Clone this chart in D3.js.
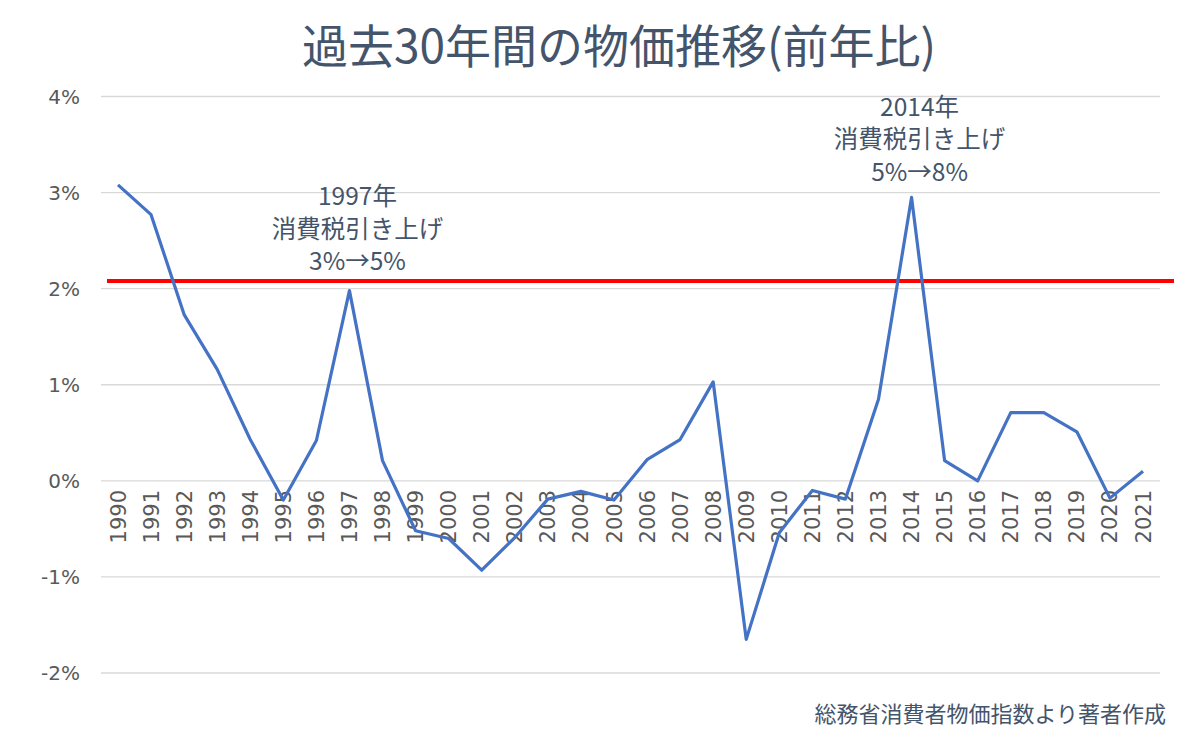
<!DOCTYPE html>
<html>
<head>
<meta charset="utf-8">
<script src="https://cdn.jsdelivr.net/npm/d3@7"></script>
<style>
  body { margin: 0; background: #fff; }
  svg { display: block; }
</style>
</head>
<body>
<div id="chart"></div>
<script>
// 消費者物価指数 前年比 (%)
const years = d3.range(1990, 2022);
const cpi = [3.08, 2.77, 1.73, 1.16, 0.43, -0.2, 0.42, 1.98, 0.21, -0.52,
  -0.6, -0.93, -0.59, -0.19, -0.11, -0.2, 0.22, 0.43, 1.03, -1.65,
  -0.54, -0.1, -0.19, 0.85, 2.95, 0.21, 0.0, 0.71, 0.71, 0.51,
  -0.18, 0.1];
const yTicks = [4, 3, 2, 1, 0, -1, -2];
const refLine = 2.08;
const notes = [
  { year: 1997, lines: ['1997年', '消費税引き上げ', '3%→5%'], top: 2.87 },
  { year: 2014, lines: ['2014年', '消費税引き上げ', '5%→8%'], top: 3.8 }
];

const width = 1200;
const height = 740;
const jp = '"Noto Sans CJK JP", "Noto Sans", sans-serif';

const svg = d3.select('#chart').append('svg')
  .attr('width', width)
  .attr('height', height);

const x = d3.scalePoint().domain(years).range([118, 1143]);
const y = d3.scaleLinear().domain([-2, 4]).range([673, 96.5]);

// grid
svg.append('g')
  .selectAll('line')
  .data(yTicks)
  .join('line')
  .attr('x1', 101).attr('x2', 1160)
  .attr('y1', d => y(d)).attr('y2', d => y(d))
  .attr('stroke', '#d9d9d9')
  .attr('stroke-width', 1.3);

// y labels
svg.append('g')
  .selectAll('text')
  .data(yTicks)
  .join('text')
  .attr('x', 80)
  .attr('y', d => y(d))
  .attr('dy', '0.36em')
  .attr('text-anchor', 'end')
  .attr('font-family', '"DejaVu Sans", Verdana, sans-serif')
  .attr('font-size', 20)
  .attr('fill', '#595959')
  .text(d => d + '%');

// year labels, rotated
svg.append('g')
  .selectAll('text')
  .data(years)
  .join('text')
  .attr('transform', d => `translate(${x(d)},490) rotate(-90)`)
  .attr('dy', '0.36em')
  .attr('text-anchor', 'end')
  .attr('font-family', '"DejaVu Sans", Verdana, sans-serif')
  .attr('font-size', 21)
  .attr('fill', '#595959')
  .text(d => d);

// red reference line
svg.append('line')
  .attr('x1', 107).attr('x2', 1174)
  .attr('y1', y(refLine)).attr('y2', y(refLine))
  .attr('stroke', '#ff0000')
  .attr('stroke-width', 4);

// cpi line
const line = d3.line()
  .x((d, i) => x(years[i]))
  .y(d => y(d));

svg.append('path')
  .datum(cpi)
  .attr('d', line)
  .attr('fill', 'none')
  .attr('stroke', '#4472c4')
  .attr('stroke-width', 3.2)
  .attr('stroke-linejoin', 'round');

// annotations
notes.forEach(n => {
  const t = svg.append('text')
    .attr('x', x(n.year) + 8)
    .attr('y', y(n.top))
    .attr('text-anchor', 'middle')
    .attr('font-family', jp)
    .attr('font-size', 24.5)
    .attr('fill', '#44546a');
  n.lines.forEach((s, i) => {
    t.append('tspan')
      .attr('x', x(n.year) + 8)
      .attr('dy', i === 0 ? 0 : 32.5)
      .text(s);
  });
});

// title
svg.append('text')
  .attr('x', 619)
  .attr('y', 63)
  .attr('text-anchor', 'middle')
  .attr('font-family', jp)
  .attr('font-size', 46)
  .attr('fill', '#44546a')
  .text('過去30年間の物価推移(前年比)');

// source
svg.append('text')
  .attr('x', 1166)
  .attr('y', 722)
  .attr('text-anchor', 'end')
  .attr('font-family', jp)
  .attr('font-size', 22)
  .attr('fill', '#44546a')
  .text('総務省消費者物価指数より著者作成');
</script>
</body>
</html>
